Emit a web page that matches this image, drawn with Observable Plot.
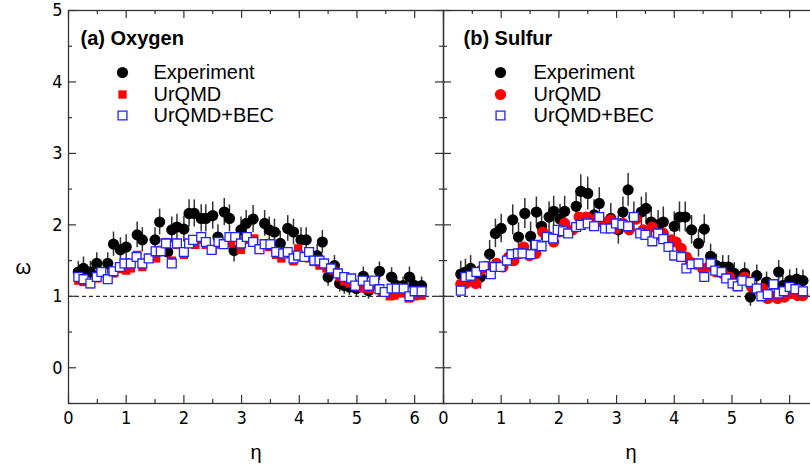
<!DOCTYPE html>
<html><head><meta charset="utf-8">
<script src="https://cdn.jsdelivr.net/npm/d3@7"></script>
<script src="https://cdn.jsdelivr.net/npm/@observablehq/plot@0.6"></script>
<style>
html,body{margin:0;padding:0;background:#fff;overflow:hidden;}
#chart{display:flex;width:810px;height:469px;overflow:hidden;}
#chart svg{flex:none;}
</style></head><body><div id="chart"></div>
<script>
// ---- data: [eta, omega, error] ----
const oxygenExperiment = [[0.17,1.34,0.15],[0.26,1.39,0.16],[0.38,1.34,0.15],[0.49,1.46,0.15],[0.68,1.46,0.15],[0.78,1.73,0.17],[0.90,1.65,0.17],[1.00,1.69,0.17],[1.19,1.86,0.18],[1.28,1.79,0.17],[1.50,1.79,0.17],[1.58,2.04,0.18],[1.72,1.62,0.16],[1.79,1.93,0.18],[1.88,1.97,0.18],[2.00,1.94,0.18],[2.09,2.16,0.19],[2.18,2.16,0.19],[2.30,2.09,0.19],[2.38,2.09,0.19],[2.50,2.13,0.19],[2.59,1.83,0.17],[2.70,2.18,0.19],[2.79,2.09,0.19],[2.87,1.64,0.16],[2.99,1.93,0.18],[3.08,2.02,0.18],[3.20,2.08,0.19],[3.40,2.02,0.18],[3.48,1.93,0.18],[3.57,1.90,0.18],[3.67,1.74,0.17],[3.80,1.95,0.18],[3.90,1.90,0.18],[4.03,1.79,0.17],[4.12,1.79,0.17],[4.31,1.57,0.16],[4.40,1.76,0.16],[4.50,1.27,0.13],[4.61,1.43,0.14],[4.70,1.18,0.12],[4.78,1.15,0.12],[4.87,1.13,0.12],[4.99,1.11,0.12],[5.11,1.28,0.13],[5.20,1.08,0.12],[5.39,1.35,0.13],[5.60,1.27,0.13],[5.69,1.15,0.12],[5.80,1.15,0.12],[5.91,1.27,0.14],[6.00,1.15,0.12],[6.12,1.15,0.12]];
const oxygenUrQMD = [[0.17,1.22],[0.26,1.20],[0.38,1.17],[0.49,1.25],[0.57,1.32],[0.68,1.24],[0.78,1.32],[0.90,1.38],[1.00,1.36],[1.08,1.39],[1.19,1.58],[1.28,1.41],[1.39,1.53],[1.52,1.53],[1.62,1.65],[1.69,1.76],[1.79,1.50],[1.88,1.72],[2.00,1.58],[2.12,1.74],[2.20,1.72],[2.29,1.79],[2.38,1.72],[2.50,1.65],[2.61,1.73],[2.70,1.72],[2.82,1.74],[2.99,1.65],[3.08,1.79],[3.22,1.81],[3.30,1.65],[3.48,1.69],[3.60,1.58],[3.69,1.53],[3.80,1.60],[3.90,1.49],[3.98,1.67],[4.07,1.55],[4.17,1.53],[4.26,1.48],[4.35,1.43],[4.47,1.39],[4.59,1.36],[4.70,1.27],[4.78,1.21],[4.87,1.18],[4.99,1.13],[5.11,1.11],[5.22,1.10],[5.30,1.15],[5.43,1.06],[5.57,1.00],[5.65,1.01],[5.77,1.04],[5.90,0.97],[6.00,1.00],[6.12,1.01]];
const oxygenUrQMDBEC = [[0.17,1.27],[0.26,1.24],[0.38,1.18],[0.49,1.27],[0.57,1.34],[0.68,1.24],[0.78,1.35],[0.89,1.41],[0.97,1.46],[1.08,1.46],[1.18,1.55],[1.28,1.46],[1.39,1.53],[1.51,1.63],[1.60,1.63],[1.69,1.74],[1.79,1.46],[1.88,1.74],[2.00,1.62],[2.09,1.74],[2.16,1.79],[2.30,1.83],[2.38,1.76],[2.48,1.65],[2.60,1.76],[2.69,1.73],[2.79,1.83],[2.89,1.83],[2.99,1.74],[3.09,1.83],[3.20,1.76],[3.31,1.66],[3.40,1.73],[3.50,1.73],[3.60,1.62],[3.72,1.60],[3.80,1.62],[3.90,1.53],[3.98,1.57],[4.09,1.55],[4.17,1.62],[4.26,1.50],[4.35,1.50],[4.43,1.46],[4.55,1.39],[4.67,1.32],[4.78,1.27],[4.90,1.25],[4.97,1.15],[5.10,1.22],[5.20,1.15],[5.30,1.22],[5.39,1.10],[5.48,1.06],[5.60,1.11],[5.69,1.11],[5.81,1.11],[5.91,1.00],[6.00,1.07],[6.12,1.07]];

const sulfurExperiment = [[0.30,1.31,0.18],[0.38,1.34,0.18],[0.47,1.39,0.18],[0.64,1.27,0.17],[0.80,1.59,0.19],[0.90,1.88,0.20],[1.00,1.95,0.20],[1.20,2.07,0.21],[1.30,1.83,0.20],[1.41,2.16,0.21],[1.51,1.84,0.20],[1.61,2.18,0.21],[1.70,1.98,0.20],[1.83,2.11,0.21],[1.91,2.19,0.21],[2.02,2.08,0.21],[2.10,2.19,0.21],[2.30,2.26,0.22],[2.38,2.47,0.23],[2.50,2.44,0.23],[2.61,2.14,0.21],[2.70,2.30,0.22],[2.90,2.09,0.21],[3.03,1.93,0.20],[3.11,2.18,0.21],[3.20,2.49,0.23],[3.30,2.11,0.21],[3.43,2.18,0.21],[3.51,2.23,0.22],[3.60,2.04,0.21],[3.72,2.00,0.20],[3.81,2.04,0.21],[4.00,1.98,0.20],[4.09,2.11,0.21],[4.19,2.11,0.21],[4.30,1.93,0.20],[4.42,1.74,0.19],[4.52,1.94,0.20],[4.63,1.56,0.17],[4.73,1.43,0.16],[4.84,1.41,0.16],[4.94,1.41,0.16],[5.04,1.32,0.15],[5.22,1.32,0.15],[5.32,0.99,0.13],[5.43,1.29,0.15],[5.60,1.20,0.14],[5.81,1.34,0.16],[5.88,1.15,0.14],[6.00,1.22,0.15],[6.12,1.24,0.15],[6.23,1.22,0.15]];
const sulfurUrQMD = [[0.30,1.17],[0.38,1.18],[0.47,1.22],[0.56,1.18],[0.64,1.36],[0.73,1.42],[0.82,1.36],[0.92,1.46],[1.03,1.41],[1.13,1.55],[1.22,1.50],[1.30,1.60],[1.39,1.69],[1.49,1.57],[1.60,1.60],[1.72,1.90],[1.81,1.84],[1.91,1.76],[2.00,1.90],[2.10,2.02],[2.24,1.93],[2.35,2.11],[2.47,2.11],[2.59,2.07],[2.70,2.05],[2.82,2.04],[2.90,2.07],[2.99,1.95],[3.11,2.02],[3.22,1.93],[3.34,2.08],[3.46,1.93],[3.62,1.97],[3.72,1.86],[3.81,1.88],[3.95,1.79],[4.03,1.76],[4.12,1.67],[4.21,1.55],[4.28,1.48],[4.38,1.45],[4.49,1.39],[4.61,1.42],[4.73,1.34],[4.84,1.32],[4.96,1.27],[5.08,1.15],[5.22,1.27],[5.34,1.13],[5.45,1.10],[5.53,1.11],[5.62,0.97],[5.70,1.00],[5.79,0.97],[5.91,0.99],[6.03,1.04],[6.14,1.01],[6.23,1.01]];
const sulfurUrQMDBEC = [[0.30,1.08],[0.38,1.27],[0.47,1.29],[0.57,1.34],[0.70,1.42],[0.82,1.31],[0.89,1.41],[0.99,1.41],[1.10,1.50],[1.18,1.59],[1.29,1.60],[1.37,1.60],[1.51,1.59],[1.60,1.72],[1.70,1.70],[1.79,1.83],[1.90,1.81],[1.98,1.93],[2.07,1.91],[2.16,1.88],[2.30,1.97],[2.38,2.00],[2.50,2.02],[2.61,1.98],[2.70,2.11],[2.80,1.95],[2.90,1.95],[2.99,2.02],[3.10,2.00],[3.20,1.98],[3.30,2.11],[3.41,1.88],[3.50,1.86],[3.62,1.77],[3.72,1.88],[3.81,1.80],[3.90,1.69],[4.00,1.57],[4.12,1.55],[4.21,1.39],[4.30,1.45],[4.42,1.46],[4.52,1.27],[4.63,1.46],[4.71,1.36],[4.82,1.34],[4.90,1.25],[5.01,1.18],[5.10,1.14],[5.18,1.22],[5.32,1.20],[5.43,1.11],[5.51,1.00],[5.62,1.03],[5.72,1.17],[5.81,1.04],[5.90,1.07],[6.00,1.13],[6.10,1.10],[6.23,1.07]];

const etaMajorTicks = [0, 1, 2, 3, 4, 5, 6];
const etaMinorTicks = [0.5, 1.5, 2.5, 3.5, 4.5, 5.5];
const omegaMajorTicks = [0, 1, 2, 3, 4, 5];
const omegaMinorTicks = [-0.5, 0.5, 1.5, 2.5, 3.5, 4.5];
const legendLabels = ["Experiment", "UrQMD", "UrQMD+BEC"];
const panelTitles = ["(a) Oxygen", "(b) Sulfur"];

const FW = 375, FH = 393; // frame size in px
const AXIS = "#333";
const TEXTFONT = "'Liberation Sans', Arial, Helvetica, sans-serif";

function panel({marginLeft, title, exp, model, modelSymbol, bec, showY, titleDx, markDx, textDx}) {
  const legendY = [62, 84, 105];
  const modelR = modelSymbol === "square" ? 4.7 : 5.6;
  const legendStyle = [
    {r: 5.6, fill: "#000", symbol: "circle"},
    {r: modelR, fill: "#ff0000", symbol: modelSymbol},
    {r: 5, fill: "#fff", stroke: "#2222ff", strokeWidth: 1.3, symbol: "square"}
  ];
  const marks = [
    Plot.ruleY([1], {stroke: "#000", strokeWidth: 1, strokeDasharray: "4,3"}),
    // inward ticks
    Plot.ruleY(omegaMajorTicks, {y: d => d, insetRight: FW - 8, stroke: AXIS, strokeWidth: 1.2}),
    Plot.ruleY(omegaMinorTicks, {y: d => d, insetRight: FW - 4, stroke: AXIS, strokeWidth: 1.2}),
    Plot.ruleY(omegaMajorTicks, {y: d => d, insetLeft: FW - 8, stroke: AXIS, strokeWidth: 1.2}),
    Plot.ruleY(omegaMinorTicks, {y: d => d, insetLeft: FW - 4, stroke: AXIS, strokeWidth: 1.2}),
    Plot.ruleX(etaMajorTicks, {x: d => d, insetTop: FH - 8, stroke: AXIS, strokeWidth: 1.2}),
    Plot.ruleX(etaMinorTicks, {x: d => d, insetTop: FH - 4, stroke: AXIS, strokeWidth: 1.2}),
    Plot.ruleX(etaMajorTicks, {x: d => d, insetBottom: FH - 8, stroke: AXIS, strokeWidth: 1.2}),
    Plot.ruleX(etaMinorTicks, {x: d => d, insetBottom: FH - 4, stroke: AXIS, strokeWidth: 1.2}),
    // data
    Plot.ruleX(exp, {x: d => d[0], y1: d => d[1] - d[2], y2: d => d[1] + d[2], stroke: "#333", strokeWidth: 1.5}),
    Plot.dot(exp, {x: d => d[0], y: d => d[1], ...legendStyle[0]}),
    Plot.dot(model, {x: d => d[0], y: d => d[1], ...legendStyle[1]}),
    Plot.dot(bec, {x: d => d[0], y: d => d[1], ...legendStyle[2]}),
    Plot.frame({stroke: AXIS, strokeWidth: 1.3}),
    // title
    Plot.text([title], {text: d => d, frameAnchor: "top-left", dx: titleDx, dy: 28, textAnchor: "start", lineAnchor: "middle", fontWeight: "bold", fontSize: 20, fontFamily: TEXTFONT, fill: "#000"}),
    Plot.text(["η"], {text: d => d, frameAnchor: "bottom", dy: 49, lineAnchor: "middle", fontSize: 20, fontFamily: TEXTFONT, fill: "#000"})
  ];
  legendLabels.forEach((label, i) => {
    marks.push(Plot.dot([label], {frameAnchor: "top-left", dx: markDx, dy: legendY[i], ...legendStyle[i]}));
    marks.push(Plot.text([label], {text: d => d, frameAnchor: "top-left", dx: textDx, dy: legendY[i], textAnchor: "start", lineAnchor: "middle", fontSize: 20, fontFamily: TEXTFONT, fill: "#000"}));
  });
  if (showY) {
    marks.push(Plot.text(["ω"], {text: d => d, frameAnchor: "left", dx: -53, dy: 61, lineAnchor: "middle", fontSize: 20, fontFamily: TEXTFONT, fill: "#000"}));
  }
  return Plot.plot({
    width: marginLeft + FW,
    height: 469,
    marginLeft,
    marginRight: 0,
    marginTop: 10,
    marginBottom: 66,
    style: {fontSize: "18px", fontFamily: "'Liberation Sans Narrow', 'Arial Narrow', 'DejaVu Sans Condensed', sans-serif", color: "#000", background: "transparent", overflow: "visible"},
    x: {domain: [0, 6.5], ticks: etaMajorTicks, tickSize: 0, tickPadding: 8, label: null, tickFormat: d => String(d)},
    y: showY
      ? {domain: [-0.5, 5], ticks: omegaMajorTicks, tickSize: 0, tickPadding: 6, label: null, tickFormat: d => String(d)}
      : {domain: [-0.5, 5], axis: null},
    marks
  });
}

const chart = document.getElementById("chart");
chart.appendChild(panel({marginLeft: 68, title: panelTitles[0], exp: oxygenExperiment, model: oxygenUrQMD, modelSymbol: "square", bec: oxygenUrQMDBEC, showY: true, titleDx: 12, markDx: 54, textDx: 85}));
chart.appendChild(panel({marginLeft: 0, title: panelTitles[1], exp: sulfurExperiment, model: sulfurUrQMD, modelSymbol: "circle", bec: sulfurUrQMDBEC, showY: false, titleDx: 20, markDx: 57, textDx: 90}));
</script></body></html>
